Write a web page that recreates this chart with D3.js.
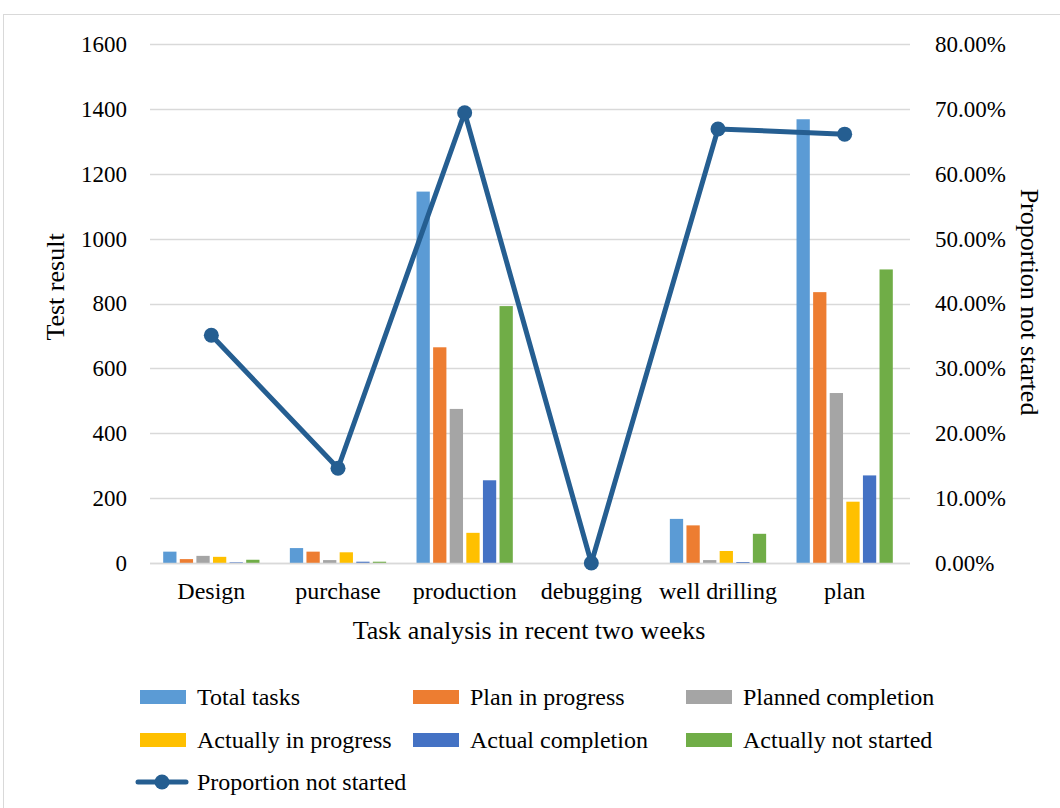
<!DOCTYPE html>
<html><head><meta charset="utf-8">
<script src="https://cdn.jsdelivr.net/npm/d3@7"></script>
<style>body{margin:0;background:#fff}svg{display:block}text{font-family:"Liberation Serif","Times New Roman",serif;fill:#000}</style>
</head><body><svg id="c" width="1060" height="808"></svg>
<script>
const categories = ["Design","purchase","production","debugging","well drilling","plan"];
const seriesNames = ["Total tasks","Plan in progress","Planned completion","Actually in progress","Actual completion","Actually not started"];
const totalTasks = [35, 46, 1145, 0, 136, 1368];
const planInProgress = [12, 35, 665, 0, 116, 835];
const plannedCompletion = [22, 9, 475, 0, 9, 524];
const actuallyInProgress = [19, 33, 93, 0, 37, 189];
const actualCompletion = [2, 4, 255, 0, 3, 270];
const actuallyNotStarted = [10, 4, 792, 0, 90, 905];
const proportionNotStarted = [0.351, 0.146, 0.694, 0, 0.669, 0.661];
const leftTicks = [0,200,400,600,800,1000,1200,1400,1600];
const rightTicks = [0,0.1,0.2,0.3,0.4,0.5,0.6,0.7,0.8];
const colors = ["#5b9bd5","#ed7d31","#a5a5a5","#ffc000","#4472c4","#70ad47"];
const lineColor = "#255e91";
const barSeries = [totalTasks, planInProgress, plannedCompletion, actuallyInProgress, actualCompletion, actuallyNotStarted];

const svg = d3.select("#c");
svg.append("rect").attr("x",3.5).attr("y",14.5).attr("width",1080).attr("height",820)
  .attr("fill","#fff").attr("stroke","#d9d9d9").attr("stroke-width",1);

const x0 = d3.scaleBand().domain(categories).range([150,910]).padding(0);
const x1 = d3.scaleBand().domain(seriesNames).range([0,x0.bandwidth()]).paddingInner(0.2).paddingOuter(0.915);
const y = d3.scaleLinear().domain([0,1600]).range([563,44]);
const y2 = d3.scaleLinear().domain([0,0.8]).range([563,44]);

// gridlines
svg.append("g").selectAll("line").data(leftTicks).join("line")
  .attr("x1",150).attr("x2",910).attr("y1",d=>Math.round(y(d))+0.5).attr("y2",d=>Math.round(y(d))+0.5)
  .attr("stroke","#d9d9d9").attr("stroke-width",1.3);

const yAxisL = d3.axisLeft(y).tickValues(leftTicks).tickSize(0).tickPadding(23).tickFormat(d3.format("d"));
const gL = svg.append("g").attr("transform","translate(150,0)").call(yAxisL);
gL.select(".domain").remove();
gL.selectAll("text").style("font-size","23px").style("font-family","Liberation Serif");

const yAxisR = d3.axisRight(y2).tickValues(rightTicks).tickSize(0).tickPadding(25).tickFormat(d=>(d*100).toFixed(2)+"%");
const gR = svg.append("g").attr("transform","translate(910,0)").call(yAxisR);
gR.select(".domain").remove();
gR.selectAll("text").style("font-size","23px").style("font-family","Liberation Serif");

// bars
const groups = svg.append("g").selectAll("g").data(categories).join("g")
  .attr("transform",d=>`translate(${x0(d)-2},0)`);
groups.selectAll("rect").data((c,i)=>barSeries.map((s,k)=>({k, v:s[i]}))).join("rect")
  .attr("x",d=>x1(seriesNames[d.k])).attr("width",x1.bandwidth())
  .attr("y",d=>y(d.v)).attr("height",d=>y(0)-y(d.v)).attr("fill",d=>colors[d.k]);

// baseline
svg.append("line").attr("x1",150).attr("x2",910).attr("y1",563.5).attr("y2",563.5).attr("stroke","#d9d9d9").attr("stroke-width",1.5);

// x axis labels
const xAxis = d3.axisBottom(x0).tickSize(0).tickPadding(0);
const gX = svg.append("g").attr("transform","translate(-2,563)").call(xAxis);
gX.select(".domain").remove();
gX.selectAll("text").attr("dy",null).attr("y",36).style("font-size","24px").style("font-family","Liberation Serif");

// line
const lineGen = d3.line().x((d,i)=>x0(categories[i])+x0.bandwidth()/2-2).y(d=>y2(d));
svg.append("path").datum(proportionNotStarted).attr("d",lineGen).attr("fill","none")
  .attr("stroke",lineColor).attr("stroke-width",5).attr("stroke-linejoin","round");
svg.append("g").selectAll("circle").data(proportionNotStarted).join("circle")
  .attr("cx",(d,i)=>x0(categories[i])+x0.bandwidth()/2-2).attr("cy",d=>y2(d)).attr("r",7.5).attr("fill",lineColor);

// axis titles
svg.append("text").attr("transform","translate(64,287) rotate(-90)").attr("text-anchor","middle").style("font-size","26px").text("Test result");
svg.append("text").attr("transform","translate(1021,302) rotate(90)").attr("text-anchor","middle").style("font-size","26px").text("Proportion not started");
svg.append("text").attr("x",529).attr("y",639).attr("text-anchor","middle").style("font-size","26px").text("Task analysis in recent two weeks");

// legend
const legX = [140,413,686];
const legY = [697,740];
seriesNames.forEach((n,i)=>{
  const lx = legX[i%3], ly = legY[Math.floor(i/3)];
  svg.append("rect").attr("x",lx).attr("y",ly-7).attr("width",46).attr("height",14).attr("fill",colors[i]);
  svg.append("text").attr("x",lx+57).attr("y",ly+8).style("font-size","24px").text(n);
});
const ly3 = 782;
svg.append("line").attr("x1",138).attr("x2",186).attr("y1",ly3).attr("y2",ly3).attr("stroke",lineColor).attr("stroke-width",5).attr("stroke-linecap","round");
svg.append("circle").attr("cx",162).attr("cy",ly3).attr("r",7.5).attr("fill",lineColor);
svg.append("text").attr("x",197).attr("y",ly3+8).style("font-size","24px").text("Proportion not started");
</script></body></html>
